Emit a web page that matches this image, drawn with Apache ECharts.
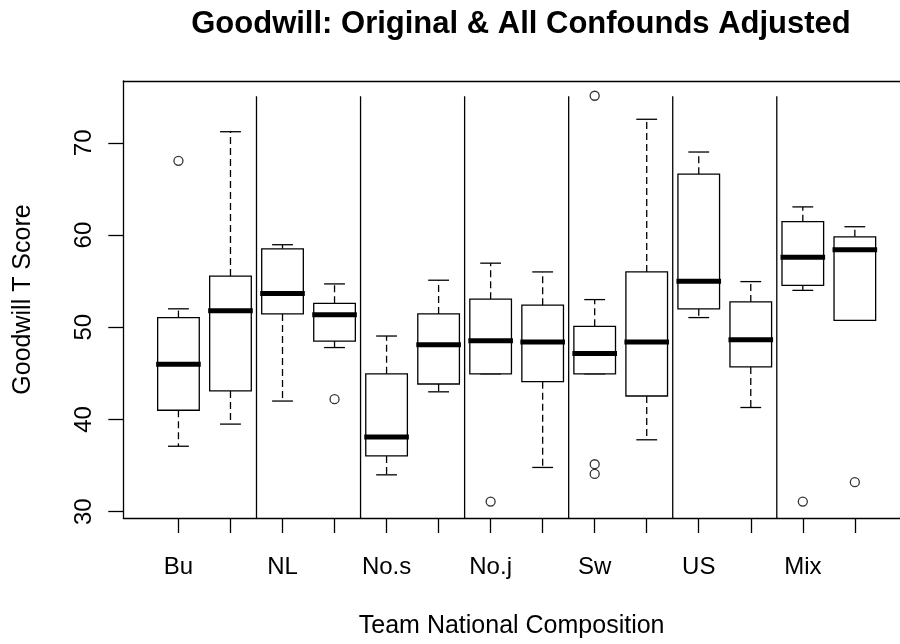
<!DOCTYPE html>
<html>
<head>
<meta charset="utf-8">
<script src="https://cdn.jsdelivr.net/npm/echarts@6/dist/echarts.min.js"></script>
<style>
    html, body { margin: 0; padding: 0; background: #fff; }
    #chart { width: 900px; height: 644px; }
</style>
</head>
<body>
<div id="chart"></div>
<script>
// group names, one label for every pair of boxes (original / adjusted)
var groups = ['Bu', 'NL', 'No.s', 'No.j', 'Sw', 'US', 'Mix'];
var positions = [1, 2, 3, 4, 5, 6, 7, 8, 9, 10, 11, 12, 13, 14];
var lowWhisker  = [37.1, 39.5, 42.0, 47.8, 34.0, 43.0, 44.95, 34.8, 44.95, 37.8, 51.05, 41.3, 54.0, 50.75];
var lowerQuart  = [41.0, 43.1, 51.45, 48.5, 36.05, 43.85, 44.95, 44.1, 44.95, 42.55, 52.0, 45.7, 54.55, 50.75];
var medians     = [46.0, 51.8, 53.65, 51.35, 38.1, 48.1, 48.55, 48.4, 47.15, 48.4, 55.0, 48.65, 57.6, 58.4];
var upperQuart  = [51.05, 55.55, 58.5, 52.6, 44.95, 51.45, 53.05, 52.4, 50.1, 56.0, 66.6, 52.75, 61.45, 59.8];
var highWhisker = [52.0, 71.2, 58.95, 54.7, 49.05, 55.1, 56.95, 56.0, 53.0, 72.55, 69.0, 54.95, 63.05, 60.9];
var outlierPos = [1, 4, 7, 9, 9, 9, 13, 14];
var outlierVal = [68.05, 42.2, 31.1, 35.15, 34.1, 75.1, 31.1, 33.2];
var separators = [2.5, 4.5, 6.5, 8.5, 10.5, 12.5];
var separatorTop = 75.05;
var yTicks = [30, 40, 50, 60, 70];
var xLabelPos = [1, 3, 5, 7, 9, 11, 13];

// plot region runs past the right edge of the picture, so the x range is cut at 900px
var xMin = -0.06, xMax = 14.868;
var yMin = 29.32, yMax = 76.7;
var font = '"Liberation Sans", Arial, sans-serif';

var boxData = positions.map(function (p, i) {
    return [p, lowWhisker[i], lowerQuart[i], medians[i], upperQuart[i], highWhisker[i]];
});
var outlierData = outlierPos.map(function (p, i) {
    return [p, outlierVal[i]];
});
var sepData = separators.map(function (s) {
    return [s, separatorTop];
});

function renderBox(params, api) {
    var x = api.value(0);
    var lo = api.coord([x, api.value(1)]);
    var q1 = api.coord([x, api.value(2)]);
    var md = api.coord([x, api.value(3)]);
    var q3 = api.coord([x, api.value(4)]);
    var hi = api.coord([x, api.value(5)]);
    var boxW = api.size([0.8, 0])[0];
    var capW = api.size([0.4, 0])[0];
    var cx = lo[0];
    var thin = { stroke: '#000', lineWidth: 1.3, fill: null };
    var dashed = { stroke: '#000', lineWidth: 1.3, lineDash: [7, 4] };
    var kids = [];
    // whiskers
    if (hi[1] < q3[1]) {
        kids.push({ type: 'line', shape: { x1: cx, y1: q3[1], x2: cx, y2: hi[1] }, style: dashed });
    }
    if (lo[1] > q1[1]) {
        kids.push({ type: 'line', shape: { x1: cx, y1: q1[1], x2: cx, y2: lo[1] }, style: dashed });
    }
    kids.push({ type: 'line', shape: { x1: cx - capW / 2, y1: hi[1], x2: cx + capW / 2, y2: hi[1] }, style: thin });
    kids.push({ type: 'line', shape: { x1: cx - capW / 2, y1: lo[1], x2: cx + capW / 2, y2: lo[1] }, style: thin });
    // box
    kids.push({ type: 'rect', shape: { x: cx - boxW / 2, y: q3[1], width: boxW, height: q1[1] - q3[1] },
        style: { stroke: '#000', lineWidth: 1.3, fill: '#fff' } });
    // median
    kids.push({ type: 'line', shape: { x1: cx - boxW / 2 - 1.5, y1: md[1], x2: cx + boxW / 2 + 1.5, y2: md[1] },
        style: { stroke: '#000', lineWidth: 5 } });
    return { type: 'group', children: kids };
}

function renderSeparator(params, api) {
    var top = api.coord([api.value(0), api.value(1)]);
    var bottom = api.coord([api.value(0), yMin]);
    return { type: 'line', shape: { x1: top[0], y1: top[1], x2: bottom[0], y2: bottom[1] },
        style: { stroke: '#000', lineWidth: 1.3 } };
}

var myChart = echarts.init(document.getElementById('chart'));
var option = {
    animation: false,
    backgroundColor: '#fff',
    title: {
        text: 'Goodwill: Original & All Confounds Adjusted',
        left: 516,
        textAlign: 'center',
        top: 4,
        textStyle: { fontFamily: font, fontSize: 31, fontWeight: 'bold', color: '#000' }
    },
    grid: {
        left: 123.3,
        top: 81,
        right: 0,
        height: 438.3,
        show: false
    },
    xAxis: [
        {
            type: 'value',
            min: xMin,
            max: xMax,
            name: 'Team National Composition',
            nameLocation: 'middle',
            nameGap: 96,
            nameTextStyle: { fontFamily: font, fontSize: 25, color: '#000' },
            splitLine: { show: false },
            axisLine: { show: true, onZero: false, lineStyle: { color: '#000', width: 1.3 } },
            axisTick: { show: true, length: 15, customValues: positions, lineStyle: { color: '#000', width: 1.3 } },
            axisLabel: {
                customValues: xLabelPos,
                margin: 37,
                fontFamily: font,
                fontSize: 24,
                color: '#000',
                formatter: function (v) { return groups[(v - 1) / 2]; }
            }
        },
        {
            // top edge of the plot frame
            type: 'value',
            position: 'top',
            min: xMin,
            max: xMax,
            splitLine: { show: false },
            axisLine: { show: true, onZero: false, lineStyle: { color: '#000', width: 1.3 } },
            axisTick: { show: false },
            axisLabel: { show: false }
        }
    ],
    yAxis: {
        type: 'value',
        min: yMin,
        max: yMax,
        name: 'Goodwill T Score',
        nameLocation: 'middle',
        nameRotate: 90,
        nameGap: 88,
        nameTextStyle: { fontFamily: font, fontSize: 25, color: '#000' },
        splitLine: { show: false },
        axisLine: { show: true, onZero: false, lineStyle: { color: '#000', width: 1.3 } },
        axisTick: { show: true, length: 15, customValues: yTicks, lineStyle: { color: '#000', width: 1.3 } },
        axisLabel: {
            customValues: yTicks,
            rotate: 90,
            margin: 27,
            fontFamily: font,
            fontSize: 24,
            color: '#000'
        }
    },
    series: [
        {
            type: 'custom',
            name: 'separators',
            renderItem: renderSeparator,
            data: sepData,
            silent: true
        },
        {
            type: 'custom',
            name: 'boxes',
            renderItem: renderBox,
            encode: { x: 0, y: [1, 2, 3, 4, 5] },
            data: boxData
        },
        {
            type: 'scatter',
            name: 'outliers',
            symbol: 'circle',
            symbolSize: 9,
            itemStyle: { color: '#fff', borderColor: '#000', borderWidth: 1.3 },
            data: outlierData
        }
    ]
};
myChart.setOption(option);
</script>
</body>
</html>
